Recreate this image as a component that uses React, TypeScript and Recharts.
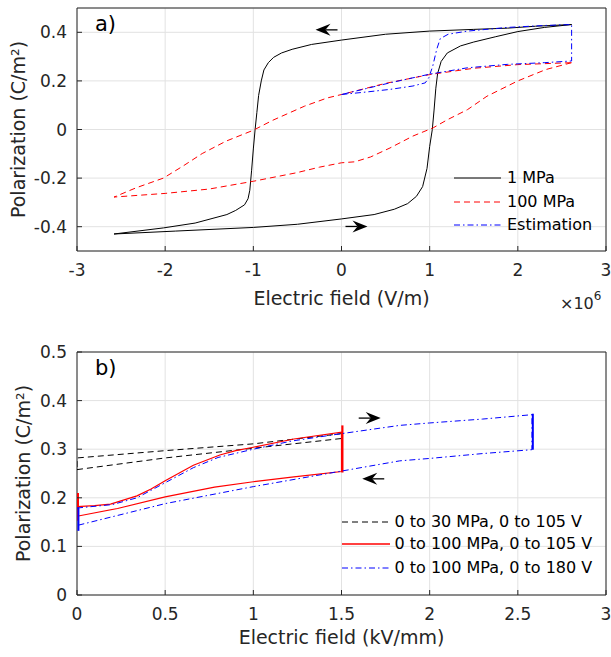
import React from 'react';
import { LineChart, Line, XAxis, YAxis, ReferenceArea, ReferenceDot, Label, CartesianGrid } from 'recharts';

type P = [number, number];

const FONT = '"DejaVu Sans", Verdana, sans-serif';
const AX = '#262626';
const GRID = '#e2e2e2';

// ---------- Panel a ----------
const aXTicks = [-3, -2, -1, 0, 1, 2, 3];
const aYTicks = [-0.4, -0.2, 0, 0.2, 0.4];

const a1MPa: P[] = [
  [2.61, 0.432], [2.2, 0.425], [1.88, 0.417], [1.5, 0.412], [1.0, 0.405], [0.5, 0.392], [0, 0.368],
  [-0.34, 0.35], [-0.56, 0.33], [-0.68, 0.315], [-0.77, 0.297], [-0.83, 0.275], [-0.88, 0.245], [-0.91, 0.2],
  [-0.94, 0.14], [-0.96, 0.07], [-0.98, 0], [-1.0, -0.08], [-1.02, -0.17], [-1.04, -0.25], [-1.06, -0.285],
  [-1.1, -0.31], [-1.2, -0.333], [-1.3, -0.35], [-1.66, -0.385], [-2.02, -0.405], [-2.58, -0.43],
  [-1.88, -0.418], [-1.0, -0.403], [-0.5, -0.39], [0, -0.368], [0.37, -0.35], [0.6, -0.328], [0.75, -0.305],
  [0.85, -0.275], [0.92, -0.235], [0.97, -0.16], [1.0, -0.07], [1.03, 0], [1.05, 0.08], [1.07, 0.17],
  [1.09, 0.23], [1.13, 0.28], [1.2, 0.315], [1.35, 0.344], [1.5, 0.36], [1.75, 0.382], [2.0, 0.403], [2.3, 0.42], [2.61, 0.432],
];

const a100MPa: P[] = [
  [2.61, 0.275], [2.32, 0.247], [2.0, 0.2], [1.65, 0.137], [1.43, 0.082], [1.2, 0.04], [1.04, 0.007],
  [0.81, -0.027], [0.55, -0.076], [0.33, -0.113], [0.15, -0.133], [0, -0.137], [-0.25, -0.155],
  [-0.51, -0.178], [-1.0, -0.213], [-1.5, -0.245], [-2.0, -0.263], [-2.58, -0.278],
  [-2.33, -0.24], [-2.02, -0.2], [-1.8, -0.151], [-1.58, -0.099], [-1.31, -0.048], [-1.0, -0.003],
  [-0.78, 0.038], [-0.42, 0.096], [-0.16, 0.13], [0, 0.144], [0.5, 0.19], [1.0, 0.226], [1.5, 0.252],
  [2.0, 0.267], [2.61, 0.275],
];

const aEstimation: P[] = [
  [0, 0.144], [0.3, 0.155], [0.55, 0.165], [0.81, 0.179], [0.95, 0.192], [0.99, 0.213], [1.035, 0.261],
  [1.08, 0.33], [1.12, 0.374], [1.21, 0.392], [1.43, 0.405], [1.88, 0.42], [2.3, 0.428], [2.61, 0.432],
  [2.61, 0.282], [2.3, 0.275], [1.88, 0.268], [1.43, 0.254], [0.99, 0.227], [0.55, 0.192], [0, 0.144],
];

const aArrowLeft: P = [-0.17, 0.41];
const aArrowRight: P = [0.17, -0.399];

const aLegendLabels = ['1 MPa', '100 MPa', 'Estimation'];

// ---------- Panel b ----------
const bXTicks = [0, 0.5, 1, 1.5, 2, 2.5, 3];
const bYTicks = [0, 0.1, 0.2, 0.3, 0.4, 0.5];

const b30MPa105V: P[] = [
  [0, 0.258], [0.5, 0.282], [1.0, 0.302], [1.5, 0.322], [1.5, 0.332], [1.0, 0.311], [0.5, 0.297],
  [0, 0.282], [0, 0.258],
];

const b100MPa105V: P[] = [
  [0, 0.182], [0.1, 0.184], [0.19, 0.187], [0.34, 0.204], [0.42, 0.218], [0.5, 0.235], [0.66, 0.267],
  [0.81, 0.288], [0.9, 0.297], [1.0, 0.304], [1.23, 0.321], [1.5, 0.335], [1.5, 0.254], [1.23, 0.243],
  [1.0, 0.233], [0.78, 0.222], [0.5, 0.202], [0.23, 0.178], [0, 0.162],
];
const b100MPa105VEdgeRight: P[] = [[1.505, 0.349], [1.505, 0.252]];
const b100MPa105VEdgeLeft: P[] = [[0.005, 0.21], [0.005, 0.153]];

const b100MPa180V: P[] = [
  [0, 0.179], [0.2, 0.186], [0.34, 0.2], [0.5, 0.231], [0.66, 0.262], [0.8, 0.283], [1.0, 0.3],
  [1.22, 0.317], [1.5, 0.332], [1.83, 0.349], [2.0, 0.354], [2.3, 0.362], [2.58, 0.371],
  [2.58, 0.299], [2.3, 0.291], [2.0, 0.281], [1.83, 0.276], [1.5, 0.255], [1.0, 0.223], [0.5, 0.188],
  [0, 0.143],
];
const b100MPa180VEdgeRight: P[] = [[2.585, 0.373], [2.585, 0.299]];
const b100MPa180VEdgeLeft: P[] = [[0.008, 0.18], [0.008, 0.132]];

const bArrowRight: P = [1.66, 0.364];
const bArrowLeft: P = [1.68, 0.239];

const bLegendLabels = ['0 to 30 MPa, 0 to 105 V', '0 to 100 MPa, 0 to 105 V', '0 to 100 MPa, 0 to 180 V'];

const pts = (a: P[]) => a.map(([x, y]) => ({ x, y }));
const fmt = (v: number) => String(Math.round(v * 10) / 10);

const Arrow = ({ cx, cy, dir }: { cx: number; cy: number; dir: 'left' | 'right' }) => {
  const s = dir === 'right' ? 1 : -1;
  const tip = cx + s * 11;
  const tail = cx - s * 11;
  const back = tip - s * 15;
  const notch = tip - s * 10;
  return (
    <g>
      <line x1={tail} y1={cy} x2={notch} y2={cy} stroke="#000" strokeWidth={1.3} />
      <path d={`M${tip},${cy} L${back},${cy - 6} L${notch},${cy} L${back},${cy + 6} Z`} fill="#000" />
    </g>
  );
};

const LegendRow = ({ cy, left, lineW, textLeft, stroke, dash, sw, text }: any) => (
  <div style={{ position: 'absolute', left, top: cy - 11, height: 22, width: 300 }}>
    <svg width={lineW} height={22} style={{ position: 'absolute', left: 0, top: 0 }}>
      <line x1={0} x2={lineW} y1={11} y2={11} stroke={stroke} strokeDasharray={dash} strokeWidth={sw} />
    </svg>
    <span
      style={{
        position: 'absolute', left: textLeft - left, top: 0, lineHeight: '22px', fontFamily: FONT,
        fontSize: 16, color: '#000', whiteSpace: 'nowrap',
      }}
    >
      {text}
    </span>
  </div>
);

const tickStyle = { fill: AX, fontSize: 17, fontFamily: FONT };

const yLabel = (bx: number) => (p: any) => {
  const vb = p.viewBox;
  const cy = vb.y + vb.height / 2;
  const x = vb.x + bx;
  return (
    <text x={x} y={cy} transform={`rotate(-90 ${x} ${cy})`} textAnchor="middle" fontSize={19} fontFamily={FONT} fill={AX}>
      Polarization (C/m²)
    </text>
  );
};

const xLabel = (text: string, dy: number) => (p: any) => {
  const vb = p.viewBox;
  return (
    <text x={vb.x + vb.width / 2} y={vb.y + dy} textAnchor="middle" fontSize={19} fontFamily={FONT} fill={AX}>
      {text}
    </text>
  );
};

const expLabel = (p: any) => {
  const vb = p.viewBox;
  const x = vb.x + vb.width - 46;
  const y = vb.y + 58;
  return (
    <text x={x} y={y} fontSize={16} fontFamily={FONT} fill={AX}>
      ×10<tspan fontSize={12} dy={-9}>6</tspan>
    </text>
  );
};

const panelLabel = (t: string) => (p: any) => {
  const vb = p.viewBox;
  return (
    <text x={vb.x + 18} y={vb.y + 23} fontSize={21} fontFamily={FONT} fill="#000">
      {t}
    </text>
  );
};

export default function App() {
  return (
    <div style={{ position: 'absolute', left: 0, top: 0, width: 611, height: 657, background: '#fff' }}>
      <div style={{ position: 'absolute', left: 0, top: 0 }}>
        <LineChart width={611} height={320} margin={{ top: 8, right: 5, bottom: 9, left: 0 }}>
          <CartesianGrid stroke={GRID} strokeWidth={1} />
          <XAxis
            dataKey="x" type="number" domain={[-3, 3]} ticks={aXTicks} allowDataOverflow height={60}
            axisLine={false} tickLine={{ stroke: AX }} tickSize={-5} tickMargin={18} tick={tickStyle}
            tickFormatter={fmt} interval={0}
          >
            <Label content={xLabel('Electric field (V/m)', 54)} />
            <Label content={expLabel} />
          </XAxis>
          <YAxis
            dataKey="y" type="number" domain={[-0.5, 0.5]} ticks={aYTicks} allowDataOverflow width={77}
            axisLine={false} tickLine={{ stroke: AX }} tickSize={-5} tickMargin={15} tick={tickStyle}
            tickFormatter={fmt} interval={0}
          >
            <Label content={yLabel(25)} />
          </YAxis>
          <ReferenceArea x1={-3} x2={3} y1={-0.5} y2={0.5} fill="none" fillOpacity={0} stroke={AX} strokeWidth={1} label={panelLabel('a)')} />
          <Line data={pts(a1MPa)} dataKey="y" stroke="#000" strokeWidth={1} dot={false} activeDot={false} isAnimationActive={false} />
          <Line data={pts(a100MPa)} dataKey="y" stroke="#ff0000" strokeWidth={1} strokeDasharray="6 4" dot={false} activeDot={false} isAnimationActive={false} />
          <Line data={pts(aEstimation)} dataKey="y" stroke="#0000ff" strokeWidth={1} strokeDasharray="6 3 1.5 3" dot={false} activeDot={false} isAnimationActive={false} />
          <ReferenceDot x={aArrowLeft[0]} y={aArrowLeft[1]} r={0} shape={(p: any) => <Arrow cx={p.cx} cy={p.cy} dir="left" />} />
          <ReferenceDot x={aArrowRight[0]} y={aArrowRight[1]} r={0} shape={(p: any) => <Arrow cx={p.cx} cy={p.cy} dir="right" />} />
        </LineChart>
      </div>
      <LegendRow cy={178.3} left={454} lineW={47} textLeft={507} stroke="#000" sw={1} text={aLegendLabels[0]} />
      <LegendRow cy={201.7} left={454} lineW={47} textLeft={507} stroke="#ff0000" dash="6 4" sw={1} text={aLegendLabels[1]} />
      <LegendRow cy={224.5} left={454} lineW={47} textLeft={507} stroke="#0000ff" dash="6 3 1.5 3" sw={1} text={aLegendLabels[2]} />

      <div style={{ position: 'absolute', left: 0, top: 320 }}>
        <LineChart width={611} height={337} margin={{ top: 32, right: 5, bottom: 7, left: 0 }}>
          <CartesianGrid stroke={GRID} strokeWidth={1} />
          <XAxis
            dataKey="x" type="number" domain={[0, 3]} ticks={bXTicks} allowDataOverflow height={55}
            axisLine={false} tickLine={{ stroke: AX }} tickSize={-5} tickMargin={18} tick={tickStyle}
            tickFormatter={fmt} interval={0}
          >
            <Label content={xLabel('Electric field (kV/mm)', 49)} />
          </XAxis>
          <YAxis
            dataKey="y" type="number" domain={[0, 0.5]} ticks={bYTicks} allowDataOverflow width={77}
            axisLine={false} tickLine={{ stroke: AX }} tickSize={-5} tickMargin={15} tick={tickStyle}
            tickFormatter={fmt} interval={0}
          >
            <Label content={yLabel(30)} />
          </YAxis>
          <ReferenceArea x1={0} x2={3} y1={0} y2={0.5} fill="none" fillOpacity={0} stroke={AX} strokeWidth={1} label={panelLabel('b)')} />
          <Line data={pts(b30MPa105V)} dataKey="y" stroke="#000" strokeWidth={1} strokeDasharray="6 4" dot={false} activeDot={false} isAnimationActive={false} />
          <Line data={pts(b100MPa105V)} dataKey="y" stroke="#ff0000" strokeWidth={1.2} dot={false} activeDot={false} isAnimationActive={false} />
          <Line data={pts(b100MPa105VEdgeRight)} dataKey="y" stroke="#ff0000" strokeWidth={2.2} dot={false} activeDot={false} isAnimationActive={false} />
          <Line data={pts(b100MPa105VEdgeLeft)} dataKey="y" stroke="#ff0000" strokeWidth={2.2} dot={false} activeDot={false} isAnimationActive={false} />
          <Line data={pts(b100MPa180V)} dataKey="y" stroke="#0000ff" strokeWidth={1} strokeDasharray="6 3 1.5 3" dot={false} activeDot={false} isAnimationActive={false} />
          <Line data={pts(b100MPa180VEdgeRight)} dataKey="y" stroke="#0000ff" strokeWidth={2} dot={false} activeDot={false} isAnimationActive={false} />
          <Line data={pts(b100MPa180VEdgeLeft)} dataKey="y" stroke="#0000ff" strokeWidth={2} dot={false} activeDot={false} isAnimationActive={false} />
          <ReferenceDot x={bArrowRight[0]} y={bArrowRight[1]} r={0} shape={(p: any) => <Arrow cx={p.cx} cy={p.cy} dir="right" />} />
          <ReferenceDot x={bArrowLeft[0]} y={bArrowLeft[1]} r={0} shape={(p: any) => <Arrow cx={p.cx} cy={p.cy} dir="left" />} />
        </LineChart>
      </div>
      <LegendRow cy={521.7} left={341.7} lineW={48} textLeft={394.5} stroke="#000" dash="6 4" sw={1} text={bLegendLabels[0]} />
      <LegendRow cy={544} left={341.7} lineW={48} textLeft={394.5} stroke="#ff0000" sw={1.5} text={bLegendLabels[1]} />
      <LegendRow cy={567.7} left={341.7} lineW={48} textLeft={394.5} stroke="#0000ff" dash="6 3 1.5 3" sw={1} text={bLegendLabels[2]} />
    </div>
  );
}
